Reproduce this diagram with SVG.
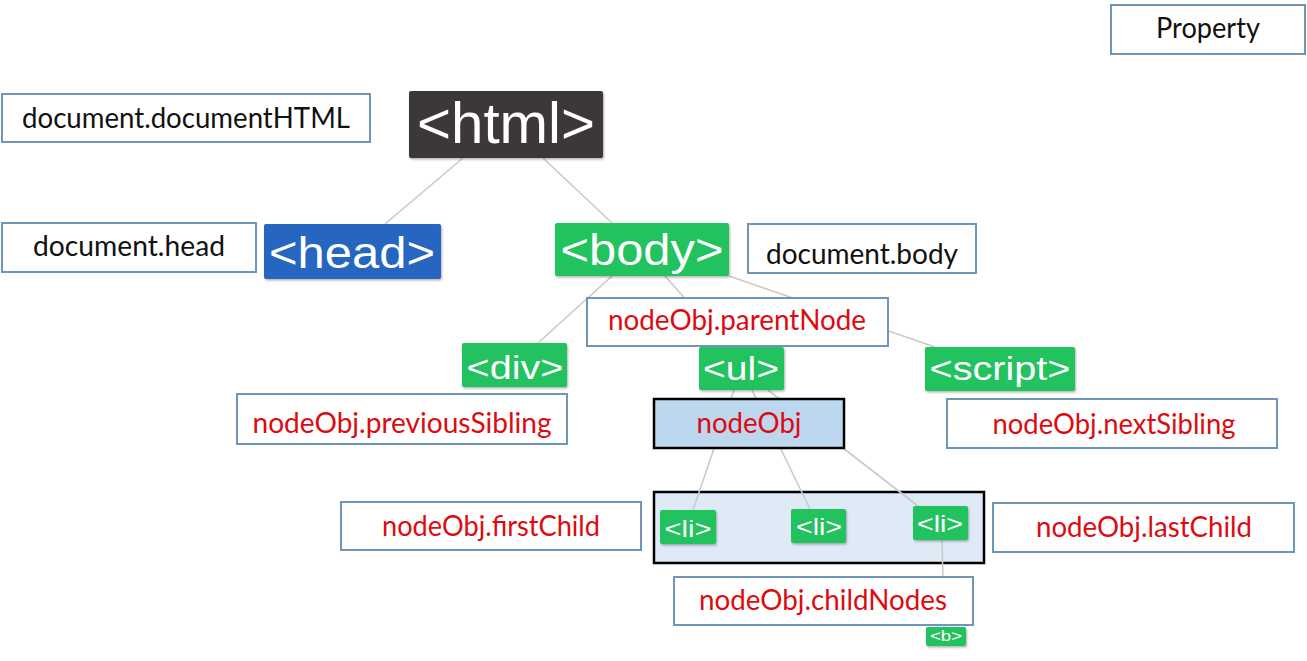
<svg xmlns="http://www.w3.org/2000/svg" width="1307" height="661" viewBox="0 0 1307 661">
<defs>
<filter id="sh" x="-10%" y="-10%" width="125%" height="135%">
<feDropShadow dx="1" dy="1.5" stdDeviation="1.2" flood-color="#000" flood-opacity="0.3"/>
</filter>
<style>
.lbl{fill:#fff;stroke:#6f95b8;stroke-width:2}
.lt{font-family:Lato,"Open Sans","Liberation Sans",sans-serif;font-size:28px;text-anchor:middle;fill:#111}
.red{fill:#dd0b10}
.tag{filter:url(#sh)}
.green{fill:#21c25f}
.tt{font-family:"Liberation Sans",Arial,sans-serif;fill:#fff;text-anchor:middle}
.con line{stroke:#cacaca;stroke-width:1.6}
</style>
</defs>
<rect width="1307" height="661" fill="#fff"/>

<g id="childset">
<rect x="654" y="492" width="330" height="71" fill="#deebf7" stroke="#000" stroke-width="2.5"/>
</g>

<g id="connectors" class="con">
<line x1="463" y1="158" x2="385" y2="224"/>
<line x1="543" y1="158" x2="612" y2="223"/>
<line x1="612" y1="276" x2="538" y2="343"/>
<line x1="665" y1="276" x2="728" y2="347"/>
<line x1="729" y1="276" x2="935" y2="347"/>
<line x1="734" y1="390" x2="693" y2="510"/>
<line x1="752" y1="390" x2="810" y2="509"/>
<line x1="768" y1="390" x2="918" y2="506"/>
<line x1="942" y1="540" x2="944" y2="627"/>
</g>

<g id="property">
<rect class="lbl" x="1111" y="5" width="194" height="49"/>
<text class="lt" x="1208" y="38" textLength="104" lengthAdjust="spacingAndGlyphs">Property</text>
</g>

<g id="documentHTML">
<rect class="lbl" x="2" y="94" width="368" height="48"/>
<text class="lt" x="186" y="128" textLength="328" lengthAdjust="spacingAndGlyphs">document.documentHTML</text>
</g>

<g id="html">
<rect class="tag" x="409" y="91" width="194" height="67" rx="2" fill="#3d3939"/>
<text class="tt" x="506" y="143" font-size="57" textLength="178" lengthAdjust="spacingAndGlyphs">&lt;html&gt;</text>
</g>

<g id="documentHead">
<rect class="lbl" x="2" y="223" width="254" height="49"/>
<text class="lt" x="129" y="256" textLength="192" lengthAdjust="spacingAndGlyphs">document.head</text>
</g>

<g id="head">
<rect class="tag" x="264" y="224" width="177" height="55" rx="2" fill="#2566c1"/>
<text class="tt" x="352" y="268" font-size="45" textLength="166" lengthAdjust="spacingAndGlyphs">&lt;head&gt;</text>
</g>

<g id="body">
<rect class="tag green" x="555" y="223" width="174" height="53" rx="2"/>
<text class="tt" x="642" y="265" font-size="45" textLength="163" lengthAdjust="spacingAndGlyphs">&lt;body&gt;</text>
</g>

<g id="documentBody">
<rect class="lbl" x="748" y="224" width="228" height="49"/>
<text class="lt" x="862" y="264" textLength="192" lengthAdjust="spacingAndGlyphs">document.body</text>
</g>

<g id="parentNode">
<rect class="lbl" x="587" y="298" width="301" height="48"/>
<text class="lt red" x="737" y="330" textLength="258" lengthAdjust="spacingAndGlyphs">nodeObj.parentNode</text>
</g>

<g id="div">
<rect class="tag green" x="462" y="343" width="105" height="44" rx="2"/>
<text class="tt" x="515" y="379" font-size="33" textLength="97" lengthAdjust="spacingAndGlyphs">&lt;div&gt;</text>
</g>

<g id="ul">
<rect class="tag green" x="699" y="347" width="85" height="43" rx="2"/>
<text class="tt" x="741" y="380" font-size="33" textLength="76" lengthAdjust="spacingAndGlyphs">&lt;ul&gt;</text>
</g>

<g id="script">
<rect class="tag green" x="925" y="347" width="150" height="44" rx="2"/>
<text class="tt" x="1000" y="380" font-size="33" textLength="141" lengthAdjust="spacingAndGlyphs">&lt;script&gt;</text>
</g>

<g id="previousSibling">
<rect class="lbl" x="237" y="394" width="330" height="50"/>
<text class="lt red" x="402" y="433" textLength="299" lengthAdjust="spacingAndGlyphs">nodeObj.previousSibling</text>
</g>

<g id="nodeObj">
<rect x="654" y="399" width="190" height="49" fill="#bdd7ee" stroke="#000" stroke-width="2.5"/>
<text class="lt red" x="749" y="433" textLength="105" lengthAdjust="spacingAndGlyphs">nodeObj</text>
</g>

<g id="nextSibling">
<rect class="lbl" x="947" y="399" width="330" height="49"/>
<text class="lt red" x="1114" y="434" textLength="243" lengthAdjust="spacingAndGlyphs">nodeObj.nextSibling</text>
</g>

<g id="firstChild">
<rect class="lbl" x="341" y="502" width="300" height="48"/>
<text class="lt red" x="491" y="536" textLength="218" lengthAdjust="spacingAndGlyphs">nodeObj.firstChild</text>
</g>

<g id="li1">
<rect class="tag green" x="660" y="510" width="56" height="34" rx="2"/>
<text class="tt" x="688" y="537" font-size="24" textLength="47" lengthAdjust="spacingAndGlyphs">&lt;li&gt;</text>
</g>

<g id="li2">
<rect class="tag green" x="791" y="509" width="55" height="34" rx="2"/>
<text class="tt" x="819" y="535" font-size="24" textLength="46" lengthAdjust="spacingAndGlyphs">&lt;li&gt;</text>
</g>

<g id="li3">
<rect class="tag green" x="913" y="506" width="55" height="34" rx="2"/>
<text class="tt" x="940" y="532" font-size="24" textLength="46" lengthAdjust="spacingAndGlyphs">&lt;li&gt;</text>
</g>

<g id="lastChild">
<rect class="lbl" x="993" y="503" width="301" height="49"/>
<text class="lt red" x="1144" y="537" textLength="216" lengthAdjust="spacingAndGlyphs">nodeObj.lastChild</text>
</g>

<g id="childNodes">
<rect class="lbl" x="674" y="577" width="299" height="48"/>
<text class="lt red" x="823" y="610" textLength="248" lengthAdjust="spacingAndGlyphs">nodeObj.childNodes</text>
</g>

<g id="b">
<rect class="tag green" x="926" y="627" width="40" height="19" rx="2"/>
<text class="tt" x="946" y="641" font-size="14" textLength="32" lengthAdjust="spacingAndGlyphs">&lt;b&gt;</text>
</g>
</svg>
